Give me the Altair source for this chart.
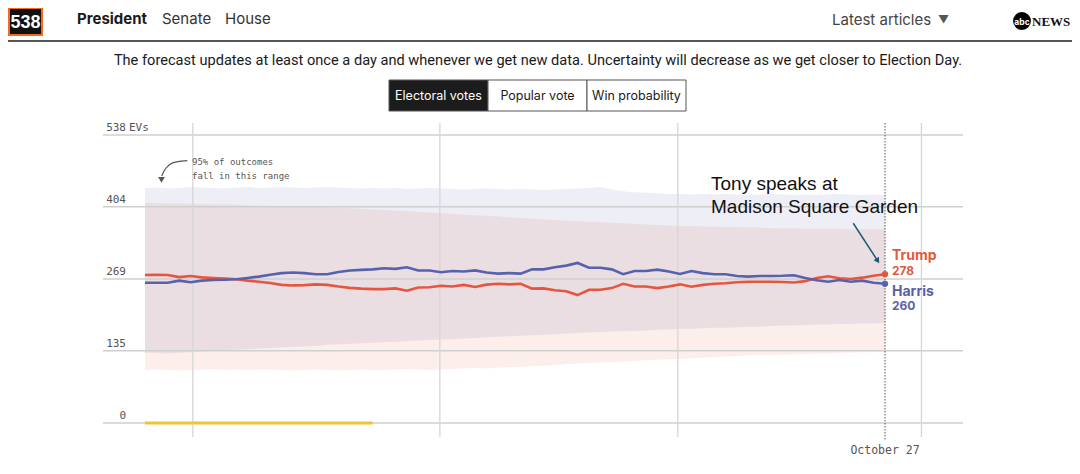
import altair as alt
import pandas as pd

# ---------------- data ----------------
days = list(range(66))  # Aug 23 ... Oct 27

trump = [276.5, 277, 276.5, 272.5, 274.5, 272, 271, 270, 268.5, 266,
         264, 261.5, 258, 257, 257.5, 259, 258, 255, 252.5, 251,
         250, 250, 251.5, 247, 253, 253.5, 256.5, 255, 258, 254,
         258.5, 260, 259, 260, 251, 251.5, 248, 246, 239, 249,
         249, 252, 260, 255, 255, 252, 255, 259, 254.5, 258,
         260, 261, 263, 264, 264, 264, 263.5, 262.5, 265, 271,
         274, 270.5, 269, 271.5, 275, 278]

harris = [262, 262, 262, 266, 263, 266, 267, 267.5, 268.5, 271,
          273.5, 277, 280, 281, 280, 278, 278, 282, 285, 286,
          287, 289, 288, 291, 285, 285, 281.5, 284, 283, 285,
          281, 279, 280, 279, 287, 287, 291, 294, 299, 290,
          290, 287, 278, 284, 284, 286.5, 283, 278.5, 284, 280,
          278, 278, 274.5, 273.5, 274.5, 274.6, 275, 276, 271, 266.5,
          264, 267, 264, 266, 262, 260]

harris_hi = [439, 440, 438, 439, 441, 440, 439, 438, 440, 441, 439, 440, 441, 440, 439, 440, 441, 440, 439, 438, 439,
             438, 439, 437, 438, 439, 438, 437, 436, 437, 438, 437, 436, 437, 436, 435, 436, 437, 438, 439, 441,
             436, 433, 431, 430, 429, 428, 428, 427, 428, 427, 428, 427, 426, 427, 428, 427, 426, 427, 426, 427,
             428, 427, 426, 427, 426]
harris_lo = [131, 131, 130, 131, 132, 134, 135, 136, 137, 138, 139, 140, 141, 142, 143, 144, 146, 147, 148, 149, 150,
             151, 152, 153, 154, 155, 156, 157, 158, 159, 160, 161, 162, 163, 164, 165, 166, 167, 168, 169, 170,
             171, 172, 172, 173, 174, 175, 176, 176, 177, 178, 178, 179, 180, 180, 181, 182, 182, 183, 184, 184,
             185, 185, 186, 186, 187]
trump_hi = [411, 411, 410, 410, 409, 409, 408, 408, 408, 407, 406, 406, 405, 405, 404, 404, 403, 402, 401, 400, 399,
            398, 397, 396, 394, 393, 392, 391, 389, 388, 387, 386, 384, 383, 382, 380, 379, 378, 377, 376, 375,
            374, 373, 372, 371, 370, 369, 368, 368, 367, 367, 366, 366, 365, 365, 364, 364, 364, 363, 363, 363,
            363, 362, 362, 362, 362]
trump_lo = [99, 100, 99, 98, 99, 100, 101, 99, 100, 99, 100, 100, 99, 98, 99, 100, 99, 98, 99, 100, 99,
            99, 100, 101, 100, 99, 100, 101, 102, 103, 102, 103, 104, 105, 106, 107, 108, 110, 111, 112, 113,
            114, 115, 116, 117, 118, 119, 120, 121, 122, 123, 124, 125, 126, 127, 127, 128, 128, 129, 130, 130,
            131, 131, 132, 132, 133]

other_days = [0, 1, 2, 3, 4, 5, 6, 7, 8, 9, 10, 11, 12, 13, 14, 15, 16, 17, 18, 19, 20]
other = [0, 0, 0, 0, 0, 0, 0, 0, 0, 0, 0, 0, 0, 0, 0, 0, 0, 0, 0, 0, 0]

y_ticks = [538, 404, 269, 135, 0]
grid_days = [4.2, 25.9, 46.8, 68.2]
end_day = 65
end_label = "October 27"
candidates = ["Trump", "Harris"]
final_values = [278, 260]

TRUMP = "#E5563F"
HARRIS = "#5762AD"
MONO = "DejaVu Sans Mono"

xs = alt.Scale(domain=[0, 65], range=[137, 877], nice=False, zero=False)
ys = alt.Scale(domain=[0, 538], range=[415, 127], nice=False, zero=False)

df = pd.DataFrame({"day": days, "trump": trump, "harris": harris,
                   "h_lo": harris_lo, "h_hi": harris_hi,
                   "t_lo": trump_lo, "t_hi": trump_hi})


def X(f):
    return alt.X(f, scale=xs, axis=None)


def Y(f):
    return alt.Y(f, scale=ys, axis=None)


def one(**kw):
    return pd.DataFrame({k: [v] for k, v in kw.items()})


def txt(s, x, y, size, color="#222", weight="normal", font="Inter", align="left", baseline="middle"):
    return alt.Chart(one(t=s)).mark_text(
        align=align, baseline=baseline, fontSize=size, font=font,
        fontWeight=weight, color=color
    ).encode(x=alt.value(x), y=alt.value(y), text="t:N")


def box(x1, x2, y1, y2, fill, stroke, sw=1):
    return alt.Chart(one(a=1)).mark_rect(fill=fill, stroke=stroke, strokeWidth=sw).encode(
        x=alt.value(x1), x2=alt.value(x2), y=alt.value(y1), y2=alt.value(y2))


layers = []

# ---------- header ----------
layers.append(box(1, 34, 0, 27, "#111111", "#F26B21", 2))
layers.append(txt("538", 17.5, 14.5, 18, color="white", weight="bold",
                  font="Liberation Sans", align="center"))
layers.append(txt("President", 69, 11, 15, color="#1a1a1a", weight="bold"))
layers.append(txt("Senate", 154, 11, 15, color="#333"))
layers.append(txt("House", 217, 11, 15, color="#333"))
layers.append(txt("Latest articles", 824, 12, 15, color="#444"))
layers.append(txt("\u25BC", 930, 12, 11, color="#555"))
layers.append(alt.Chart(one(a=1)).mark_circle(color="black", opacity=1, size=320).encode(
    x=alt.value(1014), y=alt.value(13)))
layers.append(txt("abc", 1014, 13.5, 8.5, color="white", weight="bold", align="center"))
layers.append(txt("NEWS", 1024, 13.5, 13, color="#111", font="Liberation Serif", weight="bold"))
layers.append(alt.Chart(one(a=1)).mark_rule(color="#555", strokeWidth=2).encode(
    x=alt.value(0), x2=alt.value(1064), y=alt.value(33)))

layers.append(txt("The forecast updates at least once a day and whenever we get new data. "
                  "Uncertainty will decrease as we get closer to Election Day.",
                  530, 53, 14.6, color="#1a1a1a", font="Roboto", align="center"))

# buttons
layers.append(box(381, 480, 72, 103, "#1c1c1c", "#555"))
layers.append(box(480, 579, 72, 103, "white", "#555"))
layers.append(box(579, 678, 72, 103, "white", "#555"))
layers.append(txt("Electoral votes", 430.5, 88, 12.5, color="white", font="Inter", align="center"))
layers.append(txt("Popular vote", 529.5, 88, 12.5, color="#1a1a1a", font="Inter", align="center"))
layers.append(txt("Win probability", 628.5, 88, 12.5, color="#1a1a1a", font="Inter", align="center"))

# ---------- plot ----------
layers.append(alt.Chart(df).mark_area(color=HARRIS, opacity=0.11).encode(
    x=X("day:Q"), y=Y("h_lo:Q"), y2="h_hi:Q"))
layers.append(alt.Chart(df).mark_area(color=TRUMP, opacity=0.10).encode(
    x=X("day:Q"), y=Y("t_lo:Q"), y2="t_hi:Q"))

# grid
gy = pd.DataFrame({"v": y_ticks})
layers.append(alt.Chart(gy).mark_rule(color="#cfcfcf", strokeWidth=1.3).encode(
    y=Y("v:Q"), x=alt.value(95), x2=alt.value(955)))
gx = pd.DataFrame({"d": grid_days})
layers.append(alt.Chart(gx).mark_rule(color="#d6d6d6", strokeWidth=1.3).encode(
    x=X("d:Q"), y=alt.value(115), y2=alt.value(429)))
layers.append(alt.Chart(one(d=end_day)).mark_rule(color="#555", strokeWidth=1, strokeDash=[1.5, 1.5]).encode(
    x=X("d:Q"), y=alt.value(115), y2=alt.value(432)))

# y labels
layers.append(alt.Chart(gy).mark_text(align="right", baseline="alphabetic", dy=-4, fontSize=11,
                                      font=MONO, color="#555").encode(
    y=Y("v:Q"), x=alt.value(118), text="v:Q"))
layers.append(alt.Chart(one(v=538, t="EVs")).mark_text(align="left", baseline="alphabetic", dy=-4,
                                                       fontSize=11, font=MONO, color="#555").encode(
    y=Y("v:Q"), x=alt.value(121), text="t:N"))

# x label
layers.append(alt.Chart(one(d=end_day, t=end_label)).mark_text(
    align="center", baseline="middle", fontSize=11.5, font=MONO, color="#555").encode(
    x=X("d:Q"), y=alt.value(443), text="t:N"))

# other candidate
odf = pd.DataFrame({"day": other_days, "v": other})
layers.append(alt.Chart(odf).mark_line(color="#F2C530", strokeWidth=3).encode(x=X("day:Q"), y=Y("v:Q")))

# lines
layers.append(alt.Chart(df).mark_line(color=TRUMP, strokeWidth=2.6).encode(x=X("day:Q"), y=Y("trump:Q")))
layers.append(alt.Chart(df).mark_line(color=HARRIS, strokeWidth=2.6).encode(x=X("day:Q"), y=Y("harris:Q")))

end_df = pd.DataFrame({"day": [end_day, end_day], "v": final_values, "c": candidates})
layers.append(alt.Chart(end_df).mark_circle(size=40, opacity=1).encode(
    x=X("day:Q"), y=Y("v:Q"),
    color=alt.Color("c:N", scale=alt.Scale(domain=candidates, range=[TRUMP, HARRIS]), legend=None)))

# end labels
layers.append(alt.Chart(one(d=end_day, t="Trump")).mark_text(align="left", dx=7, fontSize=14, fontWeight="bold",
                                                             font="Inter", color="#E05A3E").encode(
    x=X("d:Q"), y=alt.value(248), text="t:N"))
layers.append(alt.Chart(one(d=end_day, t=str(final_values[0]))).mark_text(
    align="left", dx=7, fontSize=12, fontWeight="bold", font="Inter", color="#E05A3E").encode(
    x=X("d:Q"), y=alt.value(262.5), text="t:N"))
layers.append(alt.Chart(one(d=end_day, t="Harris")).mark_text(align="left", dx=7, fontSize=14, fontWeight="bold",
                                                              font="Inter", color="#5A5FA8").encode(
    x=X("d:Q"), y=alt.value(284), text="t:N"))
layers.append(alt.Chart(one(d=end_day, t=str(final_values[1]))).mark_text(
    align="left", dx=7, fontSize=12, fontWeight="bold", font="Inter", color="#5A5FA8").encode(
    x=X("d:Q"), y=alt.value(298), text="t:N"))

# 95% annotation
layers.append(txt("95% of outcomes", 184, 154, 9, color="#555", font=MONO))
layers.append(txt("fall in this range", 184, 168, 9, color="#555", font=MONO))
arrow = pd.DataFrame({"d": [3.72, 2.35, 1.76, 1.47], "v": [490.0, 488.1, 475.8, 461.4], "o": [0, 1, 2, 3]})
layers.append(alt.Chart(arrow).mark_line(color="#555", strokeWidth=1.2, interpolate="basis").encode(
    x=X("d:Q"), y=Y("v:Q"), order="o:Q"))
layers.append(alt.Chart(one(d=1.45, v=454.0)).mark_point(shape="triangle-down", filled=True, size=45,
                                                           color="#555", opacity=1).encode(
    x=X("d:Q"), y=Y("v:Q")))

# Tony annotation
layers.append(txt("Tony speaks at", 703, 176, 19, color="#111", font="Liberation Sans"))
layers.append(txt("Madison Square Garden", 703, 198.5, 19, color="#111", font="Liberation Sans"))
layers.append(alt.Chart(one(d=62.21, v=373.1, d2=64.36, v2=302.9)).mark_rule(color="#1F5A78", strokeWidth=1.5).encode(
    x=X("d:Q"), y=Y("v:Q"), x2="d2:Q", y2="v2:Q"))
layers.append(alt.Chart(one(d=64.36, v=302.9)).mark_point(shape="triangle-down", filled=True, size=40,
                                                            color="#1F5A78", opacity=1, angle=327).encode(
    x=X("d:Q"), y=Y("v:Q")))

chart = alt.layer(*layers).properties(
    width=1064, height=452, padding=0,
    autosize=alt.AutoSizeParams(type="none"),
    background="white",
).configure_view(stroke=None)

chart.save("out.html", embed_options={"renderer": "svg", "actions": False})
